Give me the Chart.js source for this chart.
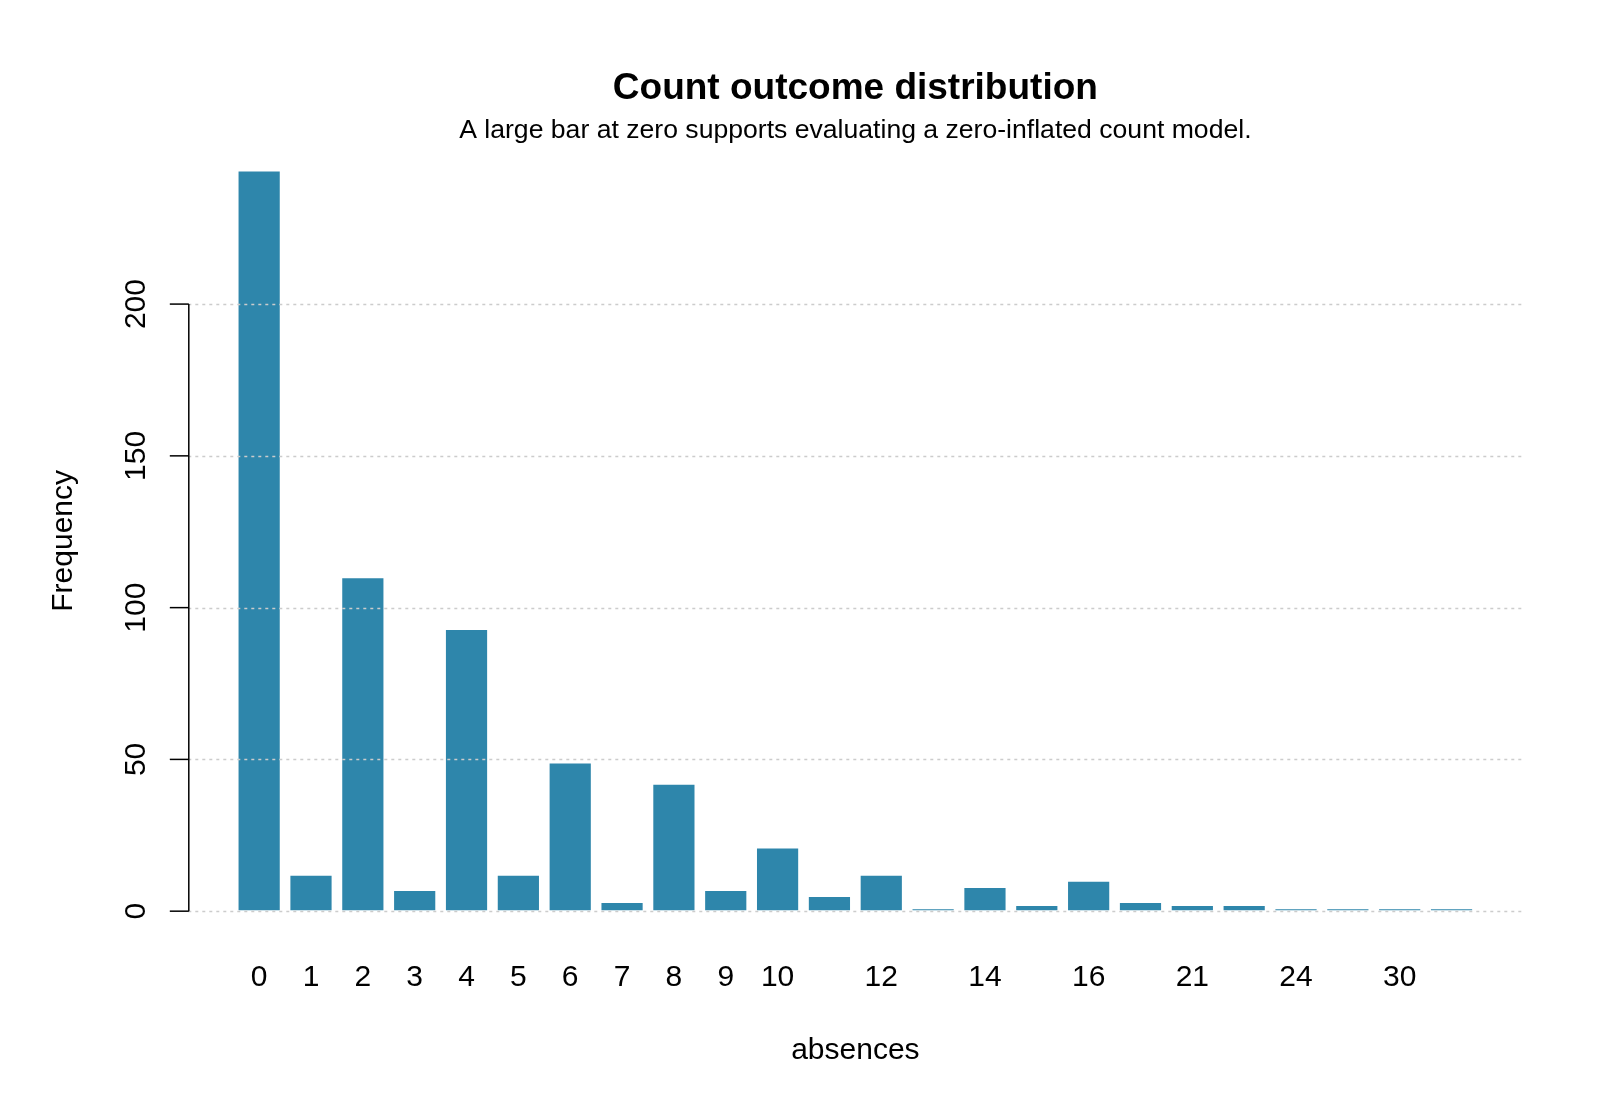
<!DOCTYPE html>
<html>
<head>
<meta charset="utf-8">
<title>Count outcome distribution</title>
<script src="https://cdn.jsdelivr.net/npm/chart.js@4.4.1/dist/chart.umd.min.js"></script>
<style>
  html, body { margin: 0; padding: 0; background: #ffffff; }
  #wrap { width: 1600px; height: 1108px; }
</style>
</head>
<body>
<div id="wrap"><canvas id="count-chart" width="1600" height="1108"></canvas></div>
<script>
// absences values and how many students had each
var absences = ['0', '1', '2', '3', '4', '5', '6', '7', '8', '9', '10', '11', '12',
                '13', '14', '15', '16', '18', '21', '22', '24', '26', '30', '32'];
var frequency = [244, 12, 110, 7, 93, 12, 49, 3, 42, 7, 21, 5, 12,
                 1, 8, 2, 10, 3, 2, 2, 1, 1, 1, 1];
// R drops the labels that would overlap, so only these are drawn
var shownLabels = ['0', '1', '2', '3', '4', '5', '6', '7', '8', '9', '10',
                   '12', '14', '16', '21', '24', '30'];
var yTicks = [0, 50, 100, 150, 200];

var chartTitle = 'Count outcome distribution';
var chartSubtitle = 'A large bar at zero supports evaluating a zero-inflated count model.';
var xTitle = 'absences';
var yTitle = 'Frequency';

var barColor = '#2E86AB';
var fontFamily = '"Liberation Sans", Arial, Helvetica, sans-serif';

function buildBars() {
    return absences.map(function (label, i) {
        return { x: i, y: frequency[i] };
    });
}

// base-graphics look: white page, dotted grid over the bars, left axis, labels
var baseLook = {
    id: 'baseLook',
    beforeDraw: function (chart) {
        var ctx = chart.ctx;
        ctx.save();
        ctx.fillStyle = '#ffffff';
        ctx.fillRect(0, 0, chart.width, chart.height);
        ctx.restore();
    },
    afterDatasetsDraw: function (chart) {
        var ctx = chart.ctx;
        var x = chart.scales.x;
        var y = chart.scales.y;
        var area = chart.chartArea;
        var midX = (area.left + area.right) / 2;
        var midY = (area.top + area.bottom) / 2;

        ctx.save();

        // dotted grid lines
        ctx.strokeStyle = '#cccccc';
        ctx.lineWidth = 1.5;
        ctx.setLineDash([3, 4]);
        yTicks.forEach(function (v) {
            var py = Math.round(y.getPixelForValue(v)) + 0.5;
            ctx.beginPath();
            ctx.moveTo(area.left, py);
            ctx.lineTo(area.right, py);
            ctx.stroke();
        });
        ctx.setLineDash([]);

        // y axis line and ticks
        var axisX = area.left + 0.5;
        var yTop = y.getPixelForValue(yTicks[yTicks.length - 1]);
        var yBot = y.getPixelForValue(yTicks[0]);
        ctx.strokeStyle = '#000000';
        ctx.lineWidth = 1.5;
        ctx.beginPath();
        ctx.moveTo(axisX, yTop);
        ctx.lineTo(axisX, yBot);
        ctx.stroke();
        yTicks.forEach(function (v) {
            var py = y.getPixelForValue(v);
            ctx.beginPath();
            ctx.moveTo(axisX, py);
            ctx.lineTo(axisX - 19, py);
            ctx.stroke();
        });

        ctx.fillStyle = '#000000';

        // y tick labels, turned to read upwards
        ctx.font = '30px ' + fontFamily;
        ctx.textAlign = 'center';
        ctx.textBaseline = 'alphabetic';
        yTicks.forEach(function (v) {
            ctx.save();
            ctx.translate(area.left - 43, y.getPixelForValue(v));
            ctx.rotate(-Math.PI / 2);
            ctx.fillText(String(v), 0, 0);
            ctx.restore();
        });

        // x tick labels under the bars
        absences.forEach(function (label, i) {
            if (shownLabels.indexOf(label) === -1) return;
            ctx.fillText(label, x.getPixelForValue(i), area.bottom + 45);
        });

        // axis titles
        ctx.fillText(xTitle, midX, area.bottom + 118);
        ctx.save();
        ctx.translate(72, midY);
        ctx.rotate(-Math.PI / 2);
        ctx.fillText(yTitle, 0, 0);
        ctx.restore();

        // title and subtitle
        ctx.font = 'bold 37px ' + fontFamily;
        ctx.fillText(chartTitle, midX, 99);
        ctx.font = '26.6px ' + fontFamily;
        ctx.fillText(chartSubtitle, midX, 138);

        ctx.restore();
    }
};

function buildCountChart() {
    var ctx = document.getElementById('count-chart').getContext('2d');

    var countChart = new Chart(ctx, {
        type: 'bar',
        data: {
            datasets: [{
                label: yTitle,
                data: buildBars(),
                backgroundColor: barColor,
                borderColor: 'rgba(255, 255, 255, 0.55)',
                borderWidth: 1,
                borderSkipped: false,
                barPercentage: 1 / 1.2,
                categoryPercentage: 1
            }]
        },
        options: {
            responsive: false,
            devicePixelRatio: 1,
            animation: false,
            events: [],
            layout: {
                padding: { left: 188.3, right: 77.6, top: 140.9, bottom: 167.2 }
            },
            plugins: {
                legend: { display: false },
                tooltip: { enabled: false },
                title: { display: false }
            },
            scales: {
                x: {
                    type: 'linear',
                    min: -1.3667,
                    max: 24.3667,
                    offset: false,
                    display: false
                },
                y: {
                    min: -9.76,
                    max: 253.76,
                    display: false
                }
            }
        },
        plugins: [baseLook]
    });
}

buildCountChart();
</script>
</body>
</html>
